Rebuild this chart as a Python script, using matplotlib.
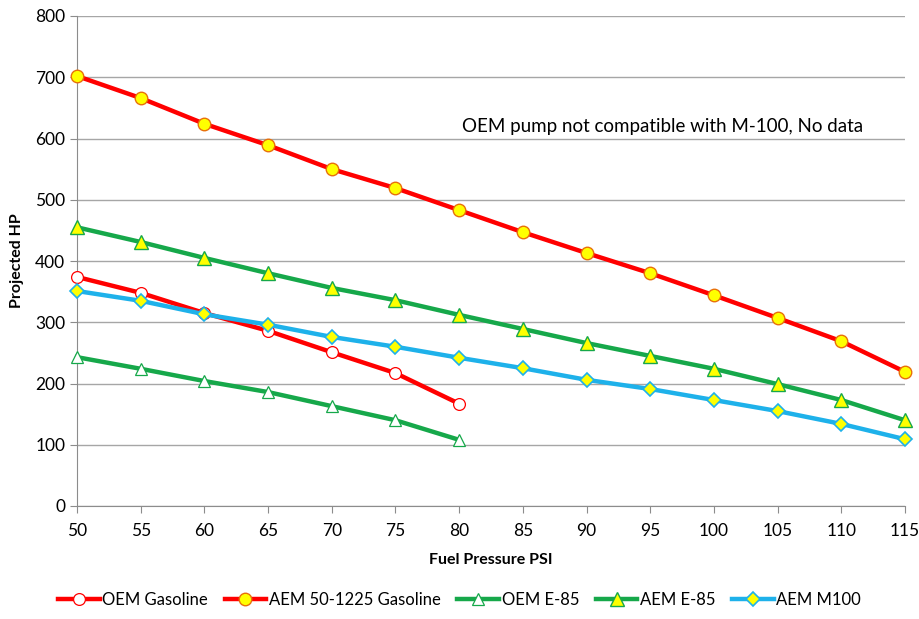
# matplotlib for plotting
import matplotlib.pyplot as plt

plt.rcParams['font.family'] = ['Lato', 'DejaVu Sans']

# fuel pressure (PSI)
psi = [50, 55, 60, 65, 70, 75, 80, 85, 90, 95, 100, 105, 110, 115]
psi_oem = [50, 55, 60, 65, 70, 75, 80]

# projected HP
oem_gas = [374, 348, 315, 286, 251, 217, 167]
aem_gas = [702, 666, 624, 589, 550, 519, 483, 447, 413, 380, 344, 307, 269, 219]
oem_e85 = [243, 224, 204, 186, 163, 140, 108]
aem_e85 = [455, 431, 405, 380, 356, 336, 312, 289, 266, 245, 224, 199, 173, 140]
aem_m100 = [351, 335, 313, 296, 276, 260, 242, 225, 206, 191, 173, 155, 134, 109]

red = "#ff0000"
green = "#16a84a"
blue = "#1eb1ea"
yellow = "#ffff00"

fig = plt.figure(figsize=(9.19, 6.19), dpi=100)
ax = fig.add_axes([77/919, 113/619, 828/919, 490/619])

lw = 3.2
ax.plot(psi_oem, oem_gas, color=red, lw=lw, marker="o", ms=8.5,
        mfc="white", mec=red, mew=0.9, label="OEM Gasoline", clip_on=False, zorder=3)
ax.plot(psi, aem_gas, color=red, lw=lw, marker="o", ms=9,
        mfc=yellow, mec="#e8700a", mew=1.0, label="AEM 50-1225 Gasoline", clip_on=False, zorder=3)
ax.plot(psi_oem, oem_e85, color=green, lw=lw, marker="^", ms=9,
        mfc="white", mec=green, mew=0.9, label="OEM E-85", clip_on=False, zorder=3)
ax.plot(psi, aem_e85, color=green, lw=lw, marker="^", ms=9.5,
        mfc=yellow, mec=green, mew=1.0, label="AEM E-85", clip_on=False, zorder=3)
ax.plot(psi, aem_m100, color=blue, lw=lw, marker="D", ms=7.5,
        mfc=yellow, mec=blue, mew=1.2, label="AEM M100", clip_on=False, zorder=3)

ax.text(80.2, 620, "OEM pump not compatible with M-100, No data",
        fontsize=13.5, va="center", ha="left")

ax.set_xlim(50, 115)
ax.set_ylim(0, 800)
ax.set_xticks(psi)
ax.set_yticks(range(0, 801, 100))
ax.yaxis.grid(True, color="#a6a6a6", lw=1)
ax.set_axisbelow(True)
for s in ["top", "right"]:
    ax.spines[s].set_visible(False)
for s in ["left", "bottom"]:
    ax.spines[s].set_color("#8c8c8c")
ax.tick_params(axis="both", colors="#8c8c8c", length=5, labelsize=12.5,
               labelcolor="black")
ax.tick_params(axis="x", pad=7)

ax.set_xlabel("Fuel Pressure PSI", fontsize=11.5, fontweight="bold", labelpad=10)
ax.set_ylabel("Projected HP", fontsize=11.5, fontweight="bold", labelpad=8)

fig.legend(loc="center", bbox_to_anchor=(0.5, 19/619), ncol=5,
           frameon=False, fontsize=12, handlelength=2.5, columnspacing=1.0,
           handletextpad=0.15)

fig.savefig("out.png", dpi=100)
